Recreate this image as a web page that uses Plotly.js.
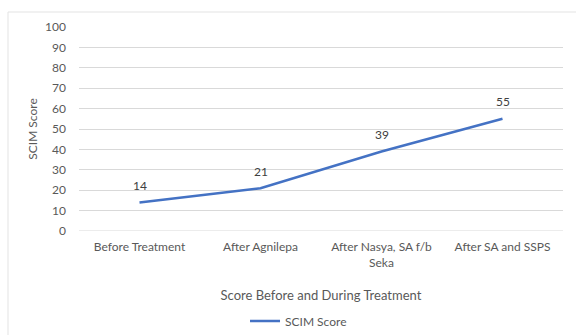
<!DOCTYPE html>
<html>
<head>
<meta charset="utf-8">
<script src="https://cdn.plot.ly/plotly-3.0.1.min.js"></script>
<style>html,body{margin:0;padding:0;background:#fff;}#chart{width:576px;height:335px;}</style>
</head>
<body>
<div id="chart"></div>
<script>
const categories = ["Before Treatment", "After Agnilepa", "After Nasya, SA f/b<br>Seka", "After SA and SSPS"];
const scimScore = [14, 21, 39, 55];
const seriesName = "SCIM Score";
const yTicks = [0, 10, 20, 30, 40, 50, 60, 70, 80, 90, 100];

const font = {family: "Lato, 'Open Sans', sans-serif", size: 12, color: "#595959"};

const trace = {
  x: categories,
  y: scimScore,
  name: seriesName,
  type: "scatter",
  mode: "lines",
  line: {color: "#4472C4", width: 2.5},
  cliponaxis: false
};

const labels = categories.map((c, i) => ({
  x: c, y: scimScore[i], xref: "x", yref: "y",
  text: String(scimScore[i]), showarrow: false, yshift: 17,
  font: {family: font.family, size: 12, color: "#404040"}
}));

const layout = {
  width: 576, height: 335,
  margin: {l: 79, r: 13, t: 27, b: 104},
  paper_bgcolor: "#fff", plot_bgcolor: "#fff",
  font: font,
  showlegend: true,
  legend: {orientation: "h", x: 0.343, xanchor: "left", yref: "container", y: 0.042, yanchor: "middle", font: font, itemwidth: 30},
  xaxis: {
    type: "category", range: [-0.5, 3.5],
    showgrid: false, showline: false, ticks: "", zeroline: false,
    tickfont: font, ticklabelstandoff: 7,
    title: {text: "Score Before and During Treatment", font: {family: font.family, size: 13, color: "#595959"}, standoff: 22},
    automargin: false
  },
  yaxis: {
    range: [0, 100], tickvals: yTicks, ticktext: yTicks.map(String),
    showgrid: true, gridcolor: "#d9d9d9", gridwidth: 1,
    zeroline: false, showline: false, ticks: "",
    tickfont: font, ticklabelstandoff: 12,
    title: {text: "SCIM Score", font: {family: font.family, size: 12, color: "#595959"}, standoff: 4},
    automargin: false
  },
  annotations: labels,
  shapes: [
    {type: "line", xref: "paper", yref: "paper", x0: -0.1467, x1: -0.1467, y0: 1.0735, y1: -0.52, line: {color: "#e3e3e3", width: 1}},
    {type: "line", xref: "paper", yref: "paper", x0: -0.1467, x1: 1.03, y0: 1.0735, y1: 1.0735, line: {color: "#e3e3e3", width: 1}},
    {type: "line", xref: "paper", yref: "y", x0: 0, x1: 1, y0: 0, y1: 0, line: {color: "#d9d9d9", width: 1}, layer: "below"}
  ]
};

Plotly.newPlot("chart", [trace], layout, {displayModeBar: false, staticPlot: true});
</script>
</body>
</html>
